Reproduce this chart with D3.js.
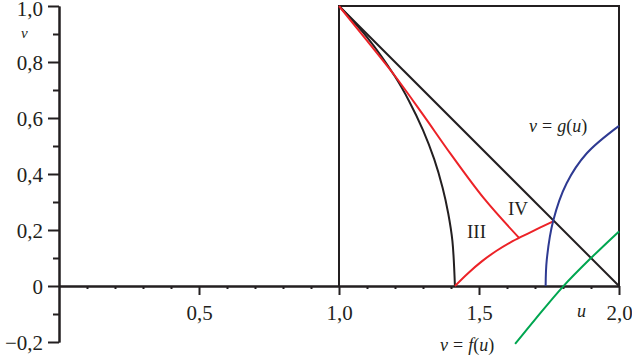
<!DOCTYPE html>
<html>
<head>
<meta charset="utf-8">
<script src="https://cdn.jsdelivr.net/npm/d3@7"></script>
<style>
  body { margin: 0; background: #fff; }
  svg text { font-family: "Liberation Serif", "DejaVu Serif", "Times New Roman", serif; fill: #231f20; }
</style>
</head>
<body>
<div id="chart"></div>
<script>
// values, (u, v) pairs
const circleArc = [[1, 1], [1.1, 0.889], [1.2, 0.748], [1.25, 0.661], [1.3, 0.557], [1.34, 0.453], [1.37, 0.351], [1.39, 0.26], [1.405, 0.161], [1.414, 0]];
const diagonal = [[1, 1], [2, 0]];
const redUpper = [[1, 1], [1.1, 0.876], [1.2, 0.75], [1.3, 0.612], [1.4, 0.47], [1.52, 0.31], [1.643, 0.172]];
const redLower = [[1.414, 0], [1.46, 0.045], [1.51, 0.088], [1.56, 0.124], [1.62, 0.16], [1.68, 0.19], [1.767, 0.232]];
const curveG = [[1.738, 0], [1.742, 0.093], [1.765, 0.233], [1.813, 0.367], [1.885, 0.474], [2.0, 0.572]];
const curveF = [[1.629, -0.207], [1.7, -0.12], [1.8, -0.002], [1.9, 0.1], [2.0, 0.195]];
const boxCorners = [[1, 0], [1, 1], [2, 1], [2, 0]];

const xMajor = [0.5, 1.0, 1.5, 2.0];
const xMinor = [0.1, 0.2, 0.3, 0.4, 0.6, 0.7, 0.8, 0.9, 1.1, 1.2, 1.3, 1.4, 1.6, 1.7, 1.8, 1.9];
const yMajor = [-0.2, 0, 0.2, 0.4, 0.6, 0.8, 1.0];
const yMinor = [-0.1, 0.1, 0.3, 0.5, 0.7, 0.9];

const width = 632, height = 356;
const ink = "#231f20";
const serif = '"Liberation Serif", "DejaVu Serif", serif';

const svg = d3.select("#chart").append("svg")
  .attr("width", width)
  .attr("height", height);

const x = d3.scaleLinear().domain([0, 2]).range([59, 619]);
const y = d3.scaleLinear().domain([-0.2, 1]).range([342, 6]);

const fmt = d => d === 0 ? "0" : d3.format(".1f")(d).replace(".", ",");

// x axis: minor and major ticks drawn by two axis calls
svg.append("g")
  .attr("transform", `translate(0,${y(0)})`)
  .call(d3.axisBottom(x).tickValues(xMinor).tickSize(3).tickSizeOuter(0).tickFormat(""));
svg.append("g")
  .attr("transform", `translate(0,${y(0)})`)
  .call(d3.axisBottom(x).tickValues(xMajor).tickSize(9).tickSizeOuter(0).tickPadding(10).tickFormat(fmt));

svg.append("g")
  .attr("transform", `translate(${x(0)},0)`)
  .call(d3.axisLeft(y).tickValues(yMinor).tickSize(6).tickSizeOuter(0).tickFormat(""));
const yMajorAxis = svg.append("g")
  .attr("transform", `translate(${x(0)},0)`)
  .call(d3.axisLeft(y).tickValues(yMajor).tickSize(11).tickSizeOuter(0).tickPadding(5).tickFormat(fmt));
yMajorAxis.selectAll("text").attr("dy", d => d === 1 ? "0.45em" : "0.38em");

svg.selectAll("g").attr("font-family", serif);
svg.selectAll(".domain, .tick line")
  .attr("stroke", ink)
  .attr("stroke-width", 2);
svg.selectAll(".tick text")
  .attr("font-family", serif)
  .style("font-size", "21px")
  .attr("fill", ink);

// axis titles
svg.append("text")
  .attr("x", 21).attr("y", 38)
  .style("font-size", "15px").style("font-style", "italic")
  .text("v");
svg.append("text")
  .attr("x", 577).attr("y", 317)
  .style("font-size", "18px").style("font-style", "italic")
  .text("u");

const line = d3.line()
  .x(d => x(d[0]))
  .y(d => y(d[1]));
const smooth = d3.line()
  .x(d => x(d[0]))
  .y(d => y(d[1]))
  .curve(d3.curveCatmullRom.alpha(0.5));

const curves = [
  { data: boxCorners, color: ink, gen: line },
  { data: diagonal, color: ink, gen: line },
  { data: circleArc, color: ink, gen: smooth },
  { data: redUpper, color: "#ec2227", gen: smooth },
  { data: redLower, color: "#ec2227", gen: smooth },
  { data: curveG, color: "#2e3a92", gen: smooth },
  { data: curveF, color: "#00a650", gen: smooth }
];

svg.append("g")
  .selectAll("path")
  .data(curves)
  .enter()
  .append("path")
  .attr("d", d => d.gen(d.data))
  .attr("fill", "none")
  .attr("stroke", d => d.color)
  .attr("stroke-width", 2);

// math labels
function mathLabel(px, py, fn) {
  const t = svg.append("text")
    .attr("x", px).attr("y", py)
    .style("font-size", "18px");
  t.append("tspan").style("font-style", "italic").text("v");
  t.append("tspan").attr("dx", 5).text("=");
  t.append("tspan").attr("dx", 5).style("font-style", "italic").text(fn);
  t.append("tspan").text("(");
  t.append("tspan").style("font-style", "italic").text("u");
  t.append("tspan").text(")");
}
mathLabel(529, 132, "g");
mathLabel(440, 351, "f");

svg.append("text")
  .attr("x", 467).attr("y", 238)
  .style("font-size", "19px")
  .text("III");
svg.append("text")
  .attr("x", 508).attr("y", 215)
  .style("font-size", "19px")
  .text("IV");
</script>
</body>
</html>
